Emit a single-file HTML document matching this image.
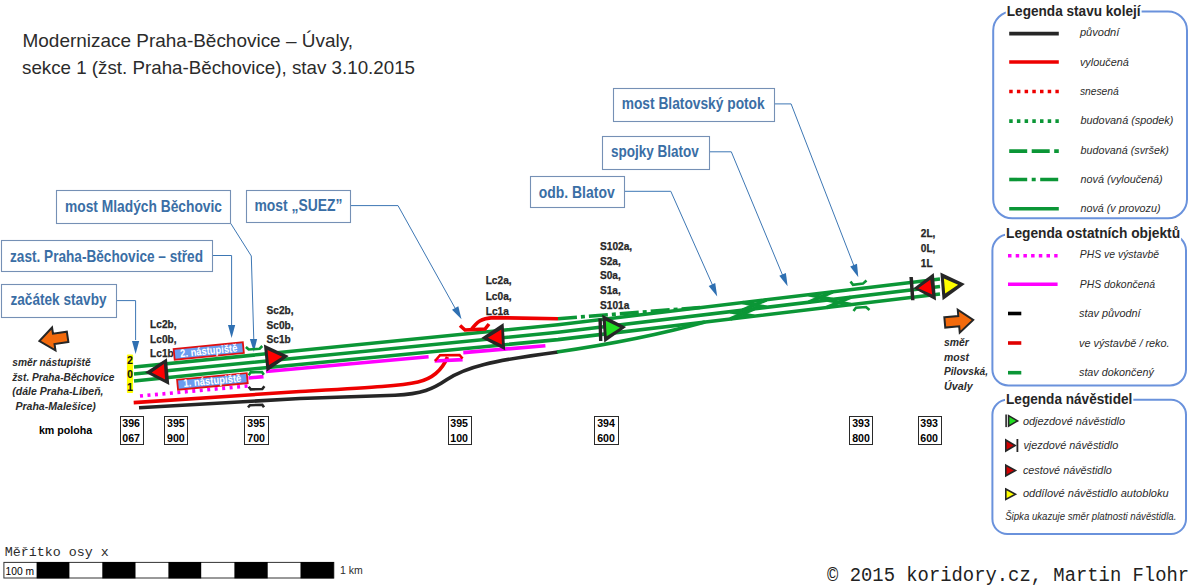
<!DOCTYPE html>
<html><head><meta charset="utf-8"><title>Modernizace Praha-Běchovice – Úvaly</title>
<style>
html,body{margin:0;padding:0;background:#fff;}
body{width:1188px;height:585px;overflow:hidden;}
svg{display:block;font-family:"Liberation Sans",sans-serif;}
.t{fill:#2b2b2b;}
.cb{fill:#fff;stroke:#7590b5;stroke-width:1.1;}
.ct{fill:#3a6ea5;font-weight:bold;font-size:16.5px;}
.cl{fill:none;stroke:#3d77b4;stroke-width:1;}
.ah{fill:#2f70b2;}
.sl{fill:#262626;font-weight:bold;font-size:10.6px;stroke:#262626;stroke-width:0.25px;}
.km{fill:#000;font-weight:bold;font-size:10.8px;}
.kb{fill:#fff;stroke:#2a2a2a;stroke-width:1;}
.g{fill:none;stroke:#0b9636;stroke-width:3.6;}
.r{fill:none;stroke:#ee0000;stroke-width:3.6;}
.k{fill:none;stroke:#262626;stroke-width:3.6;}
.m{fill:none;stroke:#ff00ff;stroke-width:3.6;}
.lg{fill:none;stroke:#6a92dc;stroke-width:2;}
.lt{fill:#262626;font-weight:bold;font-size:15.2px;}
.li{fill:#2b2b2b;font-style:italic;font-size:11px;}
.bi{fill:#2b2b2b;font-weight:bold;font-style:italic;font-size:11px;}
</style></head>
<body>
<svg width="1188" height="585" viewBox="0 0 1188 585">
<text class="t" x="22.5" y="47.4" textLength="330.5" lengthAdjust="spacingAndGlyphs" font-size="19">Modernizace Praha-Běchovice – Úvaly,</text>
<text class="t" x="22" y="73.5" textLength="393.0" lengthAdjust="spacingAndGlyphs" font-size="19">sekce 1 (žst. Praha-Běchovice), stav 3.10.2015</text>
<path class="cl" d="M230.7 223.4 L251.3 256 L253.8 340"/>
<path class="ah" d="M249.9 339.1 L253.9 352.0 L257.1 338.9 Z"/>
<rect class="cb" x="56.5" y="190.5" width="174" height="33"/>
<text class="ct" x="65" y="211.6" textLength="157.0" lengthAdjust="spacingAndGlyphs">most Mladých Běchovic</text>
<path class="cl" d="M212 255.5 L231.6 255.5 L231.6 325"/>
<path class="ah" d="M228.0 325.0 L231.6 338.0 L235.2 325.0 Z"/>
<rect class="cb" x="1.5" y="240.5" width="211" height="31"/>
<text class="ct" x="10" y="261.7" textLength="193.0" lengthAdjust="spacingAndGlyphs">zast. Praha-Běchovice – střed</text>
<path class="cl" d="M116 300.6 L135.6 300.6 L135.6 340"/>
<path class="ah" d="M132.0 341.0 L135.6 354.0 L139.2 341.0 Z"/>
<rect class="cb" x="1.5" y="284.5" width="115" height="33"/>
<text class="ct" x="10.5" y="304.7" textLength="96.0" lengthAdjust="spacingAndGlyphs">začátek stavby</text>
<path class="cl" d="M350.5 205.6 L398 205.6 L455 308"/>
<path class="ah" d="M452.0 309.7 L461.5 319.3 L458.3 306.2 Z"/>
<rect class="cb" x="246.5" y="190.5" width="104" height="32"/>
<text class="ct" x="254.4" y="210.8" textLength="88.0" lengthAdjust="spacingAndGlyphs">most „SUEZ”</text>
<path class="cl" d="M774 103.9 L791.1 103.9 L854 266"/>
<path class="ah" d="M850.2 266.4 L858.3 277.2 L857.0 263.8 Z"/>
<rect class="cb" x="613.5" y="88.5" width="161" height="33"/>
<text class="ct" x="621.7" y="108.7" textLength="143.0" lengthAdjust="spacingAndGlyphs">most Blatovský potok</text>
<path class="cl" d="M708.6 151.8 L731.3 151.8 L782.5 275"/>
<path class="ah" d="M779.3 275.7 L787.6 286.3 L785.9 272.9 Z"/>
<rect class="cb" x="602.5" y="136.5" width="107" height="33"/>
<text class="ct" x="610.9" y="156.6" textLength="88.0" lengthAdjust="spacingAndGlyphs">spojky Blatov</text>
<path class="cl" d="M623.6 191.3 L670.8 191.3 L712.5 285"/>
<path class="ah" d="M708.7 286.0 L717.2 296.4 L715.2 283.1 Z"/>
<rect class="cb" x="530.5" y="176.5" width="94" height="31"/>
<text class="ct" x="538.7" y="197.7" textLength="76.0" lengthAdjust="spacingAndGlyphs">odb. Blatov</text>
<path class="g" d="M134.0 367.0 L558.0 324.7 L940.0 279.0"/>
<path class="g" d="M134.0 374.0 L558.0 332.3 L940.0 286.5"/>
<path class="g" d="M134.0 381.0 L255.0 368.7 L558.0 339.6 L940.0 294.0"/>
<path class="g" stroke-width="2.4" d="M730.2 319.0 L754.2 308.8"/>
<path class="g" stroke-width="2.4" d="M730.2 311.7 L754.2 316.2"/>
<path class="g" stroke-width="2.4" d="M742.5 310.2 L766.5 299.8"/>
<path class="g" stroke-width="2.4" d="M742.5 302.6 L766.5 307.3"/>
<path class="g" stroke-width="2.4" d="M808.7 302.2 L832.7 291.8"/>
<path class="g" stroke-width="2.4" d="M808.7 294.7 L832.7 299.4"/>
<path class="g" stroke-width="2.4" d="M826.9 307.5 L850.9 297.2"/>
<path class="g" stroke-width="2.4" d="M826.9 300.1 L850.9 304.6"/>
<path class="k" d="M139 407.7 L300 398.5 L395 395.2 C422 394 433 389 447 379.5 C466 367 490 361 558 352"/>
<path class="g" d="M557 352 Q640 340 705 322"/>
<path class="r" d="M133.7 402.6 L300 391.5 C370 387.5 400 386 418 382 C435 378 443 368 447.5 357"/>
<path class="r" d="M471 330 C477 322 481 318.3 493 317.6 L558 318.7"/>
<path class="r" stroke-width="2.6" d="M460 325.5 L465 330 L485 329 L489 324"/>
<path class="g" stroke-dasharray="19 4 4 4" d="M558 318.7 L700 307.5"/>
<path class="m" stroke-width="3" stroke-dasharray="3 4.5" d="M140 396 L248 386"/>
<path class="m" d="M248.5 378 L263.5 376.6"/>
<path class="m" d="M266 371.5 L428.6 356.7"/>
<path class="m" d="M434.6 361 L462.6 359.6"/>
<path class="m" d="M463.3 352.6 L545.4 345.7"/>
<path fill="none" stroke="#0b9636" stroke-width="2.6" d="M245.9 347 L248.7 349.5 L259.6 348.7 L262.3 346"/>
<path fill="none" stroke="#0b9636" stroke-width="2.6" d="M248.7 375.4 L250.6 372.4 L262 372 L263.8 374.8"/>
<path fill="none" stroke="#262626" stroke-width="2.6" d="M248.7 386.8 L250.7 389.4 L262.3 389 L264.4 386.3"/>
<path fill="none" stroke="#262626" stroke-width="2.6" d="M248 407.4 L250 405.2 L262.3 404.8 L264 407.2"/>
<path fill="none" stroke="#ee0000" stroke-width="2.6" d="M435 361 L440 355.2 L459.5 355 L462.6 358.5"/>
<path fill="none" stroke="#0b9636" stroke-width="2.6" d="M850.5 281.5 L853 284.8 L863 283.6 L866.5 280.5"/>
<path fill="none" stroke="#0b9636" stroke-width="2.6" d="M853.5 311 L856 307.8 L866 307 L869.5 310"/>
<polygon points="145.1,372.4 166.9,358.3 169.3,384.9" fill="#262626" />
<polygon points="151.7,372.4 163.9,364.0 165.1,379.5" fill="#ff0000" />
<polygon points="263.9,344.5 266.6,371.7 288.7,355.9" fill="#262626" />
<polygon points="267.5,349.9 269.0,365.1 282.1,356.8" fill="#ff0000" />
<polygon points="481.3,338.0 503.6,323.1 505.2,350.2" fill="#262626" />
<polygon points="487.9,337.7 501.3,329.6 501.9,344.5" fill="#ff0000" />
<polygon points="602.2,314.8 604.3,342.6 626.1,327.1" fill="#262626" />
<polygon points="605.8,320.8 606.7,336.3 620.1,327.7" fill="#22e022" />
<polygon points="913.5,288.2 933.8,273.1 936.0,300.6" fill="#262626" />
<polygon points="918.3,288.2 930.3,279.7 932.2,294.6" fill="#ff0000" />
<polygon points="940.4,272.4 942.6,300.2 964.8,284.1" fill="#262626" />
<polygon points="943.9,278.4 945.2,293.6 958.1,284.8" fill="#ffff00" />
<polygon points="598.4,318.4 601.8,318.4 602.4,341.1 599.0,341.1" fill="#262626" />
<polygon points="909.4,276.9 912.9,276.9 914.5,300.2 911.0,300.2" fill="#262626" />
<text class="sl" x="150.1" y="328" textLength="26.4" lengthAdjust="spacingAndGlyphs">Lc2b,</text>
<text class="sl" x="150.1" y="343.1" textLength="26.4" lengthAdjust="spacingAndGlyphs">Lc0b,</text>
<text class="sl" x="150.1" y="357.2" textLength="23.6" lengthAdjust="spacingAndGlyphs">Lc1b</text>
<text class="sl" x="266.6" y="313.5" textLength="27.0" lengthAdjust="spacingAndGlyphs">Sc2b,</text>
<text class="sl" x="266.6" y="328.6" textLength="27.0" lengthAdjust="spacingAndGlyphs">Sc0b,</text>
<text class="sl" x="266.6" y="343.4" textLength="24.2" lengthAdjust="spacingAndGlyphs">Sc1b</text>
<text class="sl" x="485.7" y="284.2" textLength="25.9" lengthAdjust="spacingAndGlyphs">Lc2a,</text>
<text class="sl" x="485.7" y="299.5" textLength="25.9" lengthAdjust="spacingAndGlyphs">Lc0a,</text>
<text class="sl" x="485.7" y="314.6" textLength="23.1" lengthAdjust="spacingAndGlyphs">Lc1a</text>
<text class="sl" x="600" y="250" textLength="32.1" lengthAdjust="spacingAndGlyphs">S102a,</text>
<text class="sl" x="600" y="265" textLength="20.8" lengthAdjust="spacingAndGlyphs">S2a,</text>
<text class="sl" x="600" y="279.2" textLength="20.8" lengthAdjust="spacingAndGlyphs">S0a,</text>
<text class="sl" x="600" y="293.8" textLength="20.8" lengthAdjust="spacingAndGlyphs">S1a,</text>
<text class="sl" x="600" y="308.8" textLength="29.3" lengthAdjust="spacingAndGlyphs">S101a</text>
<text class="sl" x="920.8" y="237.1" textLength="14.6" lengthAdjust="spacingAndGlyphs">2L,</text>
<text class="sl" x="920.8" y="251.9" textLength="14.6" lengthAdjust="spacingAndGlyphs">0L,</text>
<text class="sl" x="920.8" y="266.5" textLength="11.8" lengthAdjust="spacingAndGlyphs">1L</text>
<g transform="translate(208.75 351.0) rotate(-5.6)"><rect x="-34.75" y="-5.4" width="69.5" height="10.8" fill="#6a9cf0" stroke="#e01010" stroke-width="1.8"/><text x="0" y="3.4000000000000004" text-anchor="middle" fill="#fff" font-weight="bold" font-size="11" textLength="57.5" lengthAdjust="spacingAndGlyphs">2. nástupiště</text></g>
<g transform="translate(212.4 381.4) rotate(-5.4)"><rect x="-35.0" y="-5.0" width="70" height="10" fill="#6a9cf0" stroke="#e01010" stroke-width="1.8"/><text x="0" y="3.0" text-anchor="middle" fill="#fff" font-weight="bold" font-size="11" textLength="58" lengthAdjust="spacingAndGlyphs">1. nástupiště</text></g>
<rect x="126.9" y="354.6" width="6.2" height="38.5" rx="1" fill="#ffff00"/>
<text x="130" y="363.9" text-anchor="middle" font-weight="bold" font-size="10" fill="#111" stroke="#111" stroke-width="0.2">2</text>
<text x="130" y="377.8" text-anchor="middle" font-weight="bold" font-size="10" fill="#111" stroke="#111" stroke-width="0.2">0</text>
<text x="130" y="390.8" text-anchor="middle" font-weight="bold" font-size="10" fill="#111" stroke="#111" stroke-width="0.2">1</text>
<text class="km" x="38.9" y="433.9" textLength="53.3" lengthAdjust="spacingAndGlyphs" font-size="13">km poloha</text>
<rect class="kb" x="120.5" y="416.5" width="23" height="28"/>
<text class="km" x="131.1" y="426.8" text-anchor="middle" textLength="17.7" lengthAdjust="spacingAndGlyphs">396</text>
<text class="km" x="131.1" y="441.5" text-anchor="middle" textLength="17.7" lengthAdjust="spacingAndGlyphs">067</text>
<rect class="kb" x="164.5" y="416.5" width="23" height="28"/>
<text class="km" x="175.9" y="426.8" text-anchor="middle" textLength="17.7" lengthAdjust="spacingAndGlyphs">395</text>
<text class="km" x="175.9" y="441.5" text-anchor="middle" textLength="17.7" lengthAdjust="spacingAndGlyphs">900</text>
<rect class="kb" x="244.5" y="416.5" width="24" height="28"/>
<text class="km" x="256.1" y="426.8" text-anchor="middle" textLength="17.7" lengthAdjust="spacingAndGlyphs">395</text>
<text class="km" x="256.1" y="441.5" text-anchor="middle" textLength="17.7" lengthAdjust="spacingAndGlyphs">700</text>
<rect class="kb" x="448.5" y="416.5" width="23" height="28"/>
<text class="km" x="459.1" y="426.8" text-anchor="middle" textLength="17.7" lengthAdjust="spacingAndGlyphs">395</text>
<text class="km" x="459.1" y="441.5" text-anchor="middle" textLength="17.7" lengthAdjust="spacingAndGlyphs">100</text>
<rect class="kb" x="594.5" y="416.5" width="24" height="28"/>
<text class="km" x="606.0" y="426.8" text-anchor="middle" textLength="17.7" lengthAdjust="spacingAndGlyphs">394</text>
<text class="km" x="606.0" y="441.5" text-anchor="middle" textLength="17.7" lengthAdjust="spacingAndGlyphs">600</text>
<rect class="kb" x="849.5" y="416.5" width="23" height="28"/>
<text class="km" x="861.0" y="426.8" text-anchor="middle" textLength="17.7" lengthAdjust="spacingAndGlyphs">393</text>
<text class="km" x="861.0" y="441.5" text-anchor="middle" textLength="17.7" lengthAdjust="spacingAndGlyphs">800</text>
<rect class="kb" x="918.5" y="416.5" width="23" height="28"/>
<text class="km" x="929.1" y="426.8" text-anchor="middle" textLength="17.7" lengthAdjust="spacingAndGlyphs">393</text>
<text class="km" x="929.1" y="441.5" text-anchor="middle" textLength="17.7" lengthAdjust="spacingAndGlyphs">600</text>
<path d="M0 -5.2 L14 -5.2 L14 -11.5 L28.5 0 L14 11.5 L14 5.2 L0 5.2 Z" fill="#f36a0c" stroke="#262626" stroke-width="2" transform="translate(944.8 322.4) rotate(-5)"/>
<path d="M0 -5.2 L14 -5.2 L14 -11.5 L28.5 0 L14 11.5 L14 5.2 L0 5.2 Z" fill="#f36a0c" stroke="#262626" stroke-width="2" transform="translate(67.6 336.8) rotate(171.5)"/>
<text class="bi" x="12.3" y="365.8" textLength="78.4" lengthAdjust="spacingAndGlyphs">směr nástupiště</text>
<text class="bi" x="12.3" y="380.7" textLength="102.0" lengthAdjust="spacingAndGlyphs">žst. Praha-Běchovice</text>
<text class="bi" x="12.3" y="395.3" textLength="91.2" lengthAdjust="spacingAndGlyphs">(dále Praha-Libeň,</text>
<text class="bi" x="15.4" y="409.8" textLength="80.4" lengthAdjust="spacingAndGlyphs">Praha-Malešice)</text>
<text class="bi" x="944" y="345.5" textLength="24.9" lengthAdjust="spacingAndGlyphs">směr</text>
<text class="bi" x="944" y="360.8" textLength="24.9" lengthAdjust="spacingAndGlyphs">most</text>
<text class="bi" x="944" y="375.3" textLength="44.0" lengthAdjust="spacingAndGlyphs">Pilovská,</text>
<text class="bi" x="944" y="389.8" textLength="28.7" lengthAdjust="spacingAndGlyphs">Úvaly</text>
<rect class="lg" x="993.2" y="11.5" width="193.8" height="206.8" rx="19" ry="19"/>
<rect class="lg" x="992.4" y="234.5" width="193.6" height="150.9" rx="16" ry="16"/>
<rect class="lg" x="992.4" y="399.8" width="193.6" height="134.2" rx="15" ry="15"/>
<rect x="1005.8" y="3.8000000000000007" width="135.8" height="16" fill="#fff"/>
<text class="lt" x="1006.8" y="15.8" textLength="133.8" lengthAdjust="spacingAndGlyphs">Legenda stavu kolejí</text>
<rect x="1005" y="225.5" width="176.1" height="16" fill="#fff"/>
<text class="lt" x="1006" y="237.5" textLength="174.1" lengthAdjust="spacingAndGlyphs">Legenda ostatních objektů</text>
<rect x="1005" y="392.3" width="128.3" height="16" fill="#fff"/>
<text class="lt" x="1006" y="404.3" textLength="126.3" lengthAdjust="spacingAndGlyphs">Legenda návěstidel</text>
<line x1="1009.2" y1="33.6" x2="1058.8" y2="33.6" stroke="#262626" stroke-width="3.6"/>
<line x1="1009.2" y1="62" x2="1058.8" y2="62" stroke="#ee0000" stroke-width="3.6"/>
<line x1="1009.2" y1="91.5" x2="1058.8" y2="91.5" stroke="#ee0000" stroke-width="3.6" stroke-dasharray="3.5 4.2"/>
<line x1="1009.2" y1="121.1" x2="1058.8" y2="121.1" stroke="#0b9636" stroke-width="3.6" stroke-dasharray="3.5 4.2"/>
<line x1="1009.2" y1="151.1" x2="1058.8" y2="151.1" stroke="#0b9636" stroke-width="3.6" stroke-dasharray="18 4.5"/>
<line x1="1009.2" y1="179.5" x2="1058.8" y2="179.5" stroke="#0b9636" stroke-width="3.6" stroke-dasharray="18 4.5 4 4.5"/>
<line x1="1009.2" y1="208.8" x2="1058.8" y2="208.8" stroke="#0b9636" stroke-width="3.6"/>
<text class="li" x="1079.9" y="35.599999999999994" textLength="39.5" lengthAdjust="spacingAndGlyphs">původní</text>
<text class="li" x="1079.9" y="65.6" textLength="48.9" lengthAdjust="spacingAndGlyphs">vyloučená</text>
<text class="li" x="1079.9" y="94.8" textLength="38.9" lengthAdjust="spacingAndGlyphs">snesená</text>
<text class="li" x="1080.5" y="124.1" textLength="92.9" lengthAdjust="spacingAndGlyphs">budovaná (spodek)</text>
<text class="li" x="1080.5" y="154.10000000000002" textLength="88.4" lengthAdjust="spacingAndGlyphs">budovaná (svršek)</text>
<text class="li" x="1080.5" y="183.0" textLength="82.2" lengthAdjust="spacingAndGlyphs">nová (vyloučená)</text>
<text class="li" x="1080.5" y="211.9" textLength="80.0" lengthAdjust="spacingAndGlyphs">nová (v provozu)</text>
<line x1="1008" y1="255.7" x2="1057.6" y2="255.7" stroke="#ff00ff" stroke-width="3.6" stroke-dasharray="3.5 4.2"/>
<line x1="1008" y1="284.2" x2="1057.6" y2="284.2" stroke="#ff00ff" stroke-width="3.6"/>
<line x1="1008" y1="313.5" x2="1021.3" y2="313.5" stroke="#000" stroke-width="3.6"/>
<line x1="1008" y1="343" x2="1021.3" y2="343" stroke="#e00000" stroke-width="3.6"/>
<line x1="1008" y1="372.7" x2="1021.3" y2="372.7" stroke="#0b9636" stroke-width="3.6"/>
<text class="li" x="1079.8" y="258.2" textLength="79.2" lengthAdjust="spacingAndGlyphs">PHS ve výstavbě</text>
<text class="li" x="1079.8" y="288.1" textLength="75.2" lengthAdjust="spacingAndGlyphs">PHS dokončená</text>
<text class="li" x="1079" y="316.8" textLength="61.6" lengthAdjust="spacingAndGlyphs">stav původní</text>
<text class="li" x="1079" y="346.5" textLength="90.6" lengthAdjust="spacingAndGlyphs">ve výstavbě / reko.</text>
<text class="li" x="1079" y="376.0" textLength="74.8" lengthAdjust="spacingAndGlyphs">stav dokončený</text>
<rect x="1005.3" y="414.5" width="1.6" height="12.6" fill="#262626"/>
<polygon points="1008.6,415.6 1017.6,420.9 1008.6,426.2" fill="#22dd22" stroke="#262626" stroke-width="1.6"/>
<polygon points="1005.8,440 1015.2,445.5 1005.8,451" fill="#d00000" stroke="#262626" stroke-width="1.6"/>
<rect x="1016.5" y="439" width="1.8" height="13" fill="#262626"/>
<polygon points="1005.8,465.2 1015.5,470.5 1005.8,475.8" fill="#d00000" stroke="#262626" stroke-width="1.6"/>
<polygon points="1005.8,489 1015.5,494.25 1005.8,499.5" fill="#ffff00" stroke="#262626" stroke-width="1.6"/>
<text class="li" x="1022.9" y="424.8" textLength="102.1" lengthAdjust="spacingAndGlyphs" font-size="12">odjezdové návěstidlo</text>
<text class="li" x="1023.4" y="448.7" textLength="94.9" lengthAdjust="spacingAndGlyphs" font-size="12">vjezdové návěstidlo</text>
<text class="li" x="1022.9" y="473.8" textLength="88.9" lengthAdjust="spacingAndGlyphs" font-size="12">cestové návěstidlo</text>
<text class="li" x="1022.9" y="497.4" textLength="145.8" lengthAdjust="spacingAndGlyphs" font-size="12">oddílové návěstidlo autobloku</text>
<text class="li" x="1005.2" y="520" textLength="171.2" lengthAdjust="spacingAndGlyphs" font-size="10.5">Šipka ukazuje směr platnosti návěstidla.</text>
<text x="4.7" y="556" font-family="Liberation Mono, monospace" font-size="13.3" fill="#2b2b2b" textLength="104" lengthAdjust="spacingAndGlyphs">Měřítko osy x</text>
<rect x="3.9" y="562.4" width="329.9" height="15.6" fill="#fff" stroke="#333" stroke-width="1"/>
<rect x="36.6" y="562" width="32.8" height="16.4" fill="#000"/>
<rect x="102.3" y="562" width="33.2" height="16.4" fill="#000"/>
<rect x="168.4" y="562" width="32.8" height="16.4" fill="#000"/>
<rect x="234.4" y="562" width="33.3" height="16.4" fill="#000"/>
<rect x="300.5" y="562" width="33.3" height="16.4" fill="#000"/>
<text x="5.5" y="574.5" textLength="28.5" lengthAdjust="spacingAndGlyphs" font-size="11.5" fill="#000">100 m</text>
<text x="340" y="573.8" font-size="10.5" fill="#2b2b2b">1 km</text>
<text x="827.1" y="580.6" font-family="Liberation Mono, monospace" font-size="18.87" fill="#222" transform="translate(0 580.6) scale(1 1.05) translate(0 -580.6)">© 2015 koridory.cz, Martin Flohr</text>
</svg>
</body></html>
